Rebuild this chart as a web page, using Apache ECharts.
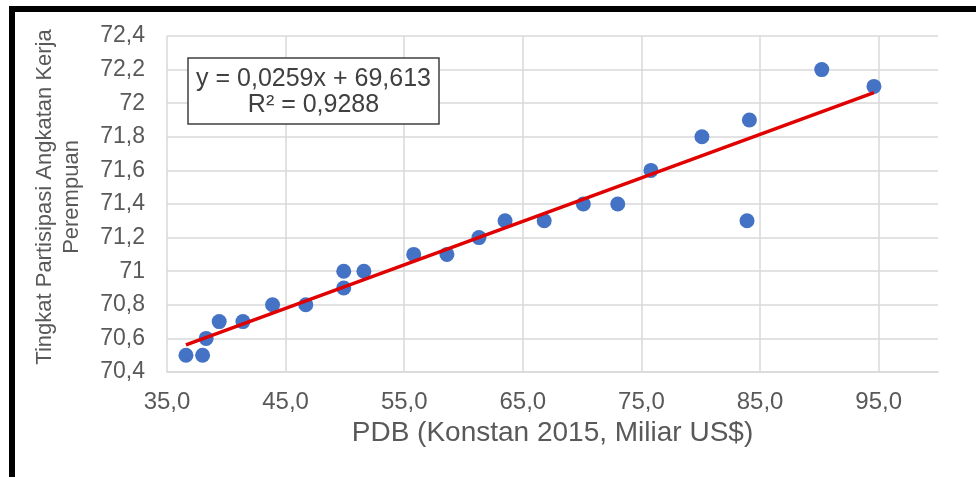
<!DOCTYPE html>
<html>
<head>
<meta charset="utf-8">
<script src="https://cdn.jsdelivr.net/npm/echarts@6/dist/echarts.min.js"></script>
<style>
  html, body { margin: 0; padding: 0; background: #ffffff; }
  #chart { width: 976px; height: 477px; }
</style>
</head>
<body>
<div id="chart"></div>
<script>
// PDB (konstan 2015, miliar US$) and TPAK perempuan (%)
const gdp  = [36.6, 38.0, 38.3, 39.4, 41.4, 43.9, 46.7, 49.9, 49.9, 51.6, 55.8, 58.6,
              61.3, 63.5, 66.8, 70.1, 73.0, 75.8, 80.1, 83.9, 84.1, 90.2, 94.6];
const tpak = [70.5, 70.5, 70.6, 70.7, 70.7, 70.8, 70.8, 70.9, 71.0, 71.0, 71.1, 71.1,
              71.2, 71.3, 71.3, 71.4, 71.4, 71.6, 71.8, 71.3, 71.9, 72.2, 72.1];

// Linear trend: y = 0,0259x + 69,613 ; R² = 0,9288
const slope = 0.0259;
const intercept = 69.613;
const rSquared = '0,9288';

const xTitle = 'PDB (Konstan 2015, Miliar US$)';
const yTitle = 'Tingkat Partisipasi Angkatan Kerja\nPerempuan';

const FONT = "'Liberation Sans', Arial, sans-serif";
const LABEL = '#595959';
const GRID = '#d9d9d9';

const points = gdp.map((x, i) => [x, tpak[i]]);
const xLo = Math.min(...gdp), xHi = Math.max(...gdp);
const trend = [[xLo, slope * xLo + intercept], [xHi, slope * xHi + intercept]];

const fmtComma = (v, digits) => v.toFixed(digits).replace('.', ',');
const eqText = 'y = ' + fmtComma(slope, 4) + 'x + ' + fmtComma(intercept, 3) +
               '\nR² = ' + rSquared;

const chart = echarts.init(document.getElementById('chart'), null, { renderer: 'canvas' });

chart.setOption({
  backgroundColor: '#ffffff',
  animation: false,
  textStyle: { fontFamily: FONT },
  grid: { left: 167, right: 38, top: 36, bottom: 105, containLabel: false },
  xAxis: {
    type: 'value',
    min: 35, max: 100, interval: 10,
    name: xTitle,
    nameLocation: 'middle',
    nameGap: 42,
    nameTextStyle: { color: LABEL, fontSize: 28, fontFamily: FONT },
    axisLine: { show: true, lineStyle: { color: GRID, width: 1.5 } },
    axisTick: { show: false },
    axisLabel: {
      color: LABEL, fontSize: 24, fontFamily: FONT, margin: 18,
      showMaxLabel: false,
      formatter: v => fmtComma(v, 1)
    },
    splitLine: { show: true, showMaxLine: false, lineStyle: { color: GRID, width: 1.5 } }
  },
  yAxis: {
    type: 'value',
    min: 70.4, max: 72.4, interval: 0.2,
    axisLine: { show: false },
    axisTick: { show: false },
    axisLabel: {
      color: LABEL, fontSize: 23, fontFamily: FONT, margin: 22,
      formatter: v => String(+v.toFixed(1)).replace('.', ',')
    },
    splitLine: { show: true, lineStyle: { color: GRID, width: 1.5 } }
  },
  series: [
    {
      type: 'scatter',
      data: points,
      symbol: 'circle',
      symbolSize: 15,
      itemStyle: { color: '#4472c4', opacity: 1 },
      z: 3
    },
    {
      type: 'line',
      data: trend,
      symbol: 'none',
      lineStyle: { color: '#e00000', width: 3.5 },
      z: 4
    }
  ],
  graphic: [
    // frame
    { type: 'rect', shape: { x: 9, y: 6, width: 967, height: 6 }, style: { fill: '#000' }, z: 10 },
    { type: 'rect', shape: { x: 9, y: 6, width: 6, height: 471 }, style: { fill: '#000' }, z: 10 },
    // y-axis title
    {
      type: 'text',
      x: 58, y: 197,
      rotation: Math.PI / 2,
      style: {
        text: yTitle,
        fill: LABEL,
        font: '22px ' + FONT,
        align: 'center',
        verticalAlign: 'middle',
        lineHeight: 27
      },
      z: 10
    },
    // trend equation box
    {
      type: 'rect',
      shape: { x: 188, y: 58, width: 251, height: 66 },
      style: { fill: '#ffffff', stroke: '#404040', lineWidth: 1.5 },
      z: 10
    },
    {
      type: 'text',
      x: 313.5, y: 92,
      style: {
        text: eqText,
        fill: '#404040',
        font: '25px ' + FONT,
        align: 'center',
        verticalAlign: 'middle',
        lineHeight: 26
      },
      z: 11
    }
  ]
});
</script>
</body>
</html>
